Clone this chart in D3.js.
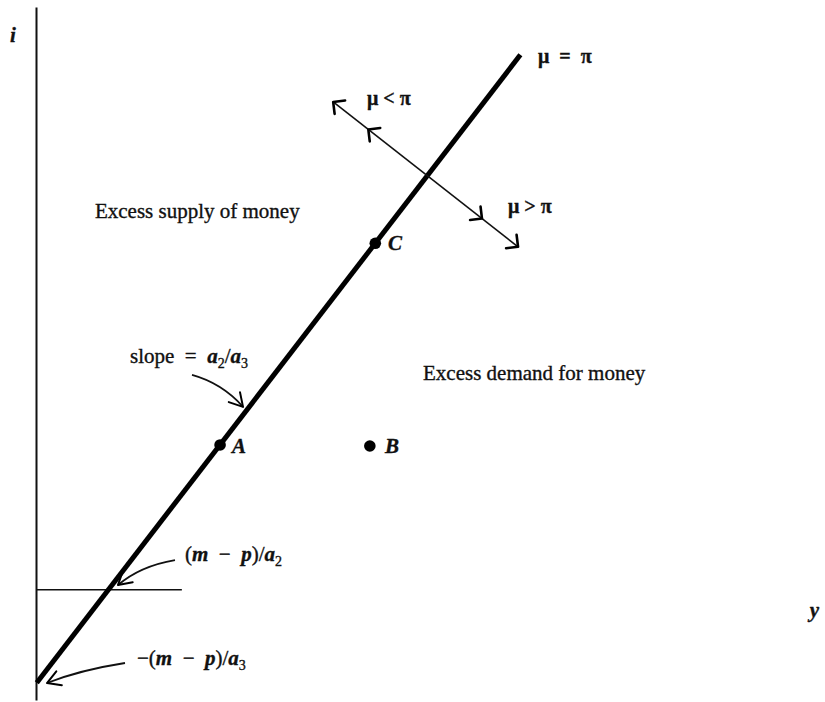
<!DOCTYPE html>
<html>
<head>
<meta charset="utf-8">
<script src="https://cdn.jsdelivr.net/npm/d3@7"></script>
<style>
  html, body { margin: 0; padding: 0; background: #fff; }
  svg { display: block; }
  text { font-family: "Liberation Serif", "Times New Roman", serif; fill: #111; white-space: pre; }
</style>
</head>
<body>
<svg id="chart" width="825" height="702"></svg>
<script>
// Money-market equilibrium line in (y, i) space, in model units.
const muPiLine = [{ y: 0.1, i: 2.5 }, { y: 62.1, i: 93.1 }];
// Intercept marker (m - p)/a2 on the i axis.
const interceptLevel = [{ y: 0, i: 15.9 }, { y: 18.7, i: 15.9 }];
// Direction-of-change arrow crossing the equilibrium line.
const crossArrow = [{ y: 38.1, i: 86.3 }, { y: 61.8, i: 65.4 }];
// Barbs along that arrow: position as a fraction of its length and pointing sense.
const crossBarbs = [{ t: 0, dir: -1 }, { t: 0.19, dir: -1 }, { t: 0.805, dir: 1 }, { t: 1, dir: 1 }];
// Named points.
const points = [
  { name: "A", y: 23.6, i: 36.8 },
  { name: "B", y: 42.8, i: 36.65 },
  { name: "C", y: 43.5, i: 65.9 }
];
// Curved pointers: start, control, end.
const pointers = [
  [{ y: 20.0, i: 46.9 }, { y: 23.85, i: 45.7 }, { y: 26.54, i: 42.3 }],
  [{ y: 17.82, i: 20.2 }, { y: 13.33, i: 19.34 }, { y: 10.51, i: 16.59 }],
  [{ y: 11.41, i: 5.34 }, { y: 5.64, i: 4.33 }, { y: 1.41, i: 2.45 }]
];
// Text labels: anchor (left baseline) and pieces [text, style].
const labels = [
  { y: -3.33, i: 94.95, parts: [["i", "it"]] },
  { y: 99.2, i: 11.98, parts: [["y", "it"]] },
  { y: 64.36, i: 91.92, parts: [["μ  =  π", "greek"]] },
  { y: 42.44, i: 85.86, parts: [["μ < π", "greek"]] },
  { y: 60.51, i: 70.27, parts: [["μ > π", "greek"]] },
  { y: 7.56, i: 69.55, parts: [["Excess supply of money", "rm"]] },
  { y: 49.62, i: 46.18, parts: [["Excess demand for money", "rm"]] },
  { y: 12.05, i: 48.63, parts: [["slope  =  ", "rm"], ["a", "it"], ["2", "sub"], ["/", "rm"], ["a", "it"], ["3", "sub"]] },
  { y: 45.13, i: 64.94, parts: [["C", "it"]] },
  { y: 25.13, i: 35.64, parts: [["A", "it"]] },
  { y: 44.74, i: 35.64, parts: [["B", "it"]] },
  { y: 19.1, i: 20.06, parts: [["(", "rm"], ["m", "it"], ["  −  ", "rm"], ["p", "it"], [")/", "rm"], ["a", "it"], ["2", "sub"]] },
  { y: 12.95, i: 5.05, parts: [["−(", "rm"], ["m", "it"], ["  −  ", "rm"], ["p", "it"], [")/", "rm"], ["a", "it"], ["3", "sub"]] }
];

const svg = d3.select("#chart");
const x = d3.scaleLinear().domain([0, 100]).range([36, 816]);
const yS = d3.scaleLinear().domain([0, 100]).range([700, 7]);

// Vertical i axis (domain line only).
svg.append("g")
  .attr("transform", `translate(${x(0)},0)`)
  .call(d3.axisLeft(yS).ticks(0).tickSize(0).tickSizeOuter(0))
  .call(g => g.select(".domain").attr("stroke", "#111").attr("stroke-width", 2));

const line = d3.line().x(d => x(d.y)).y(d => yS(d.i));

svg.append("path").datum(interceptLevel).attr("d", line)
  .attr("stroke", "#111").attr("stroke-width", 1.6).attr("fill", "none");

svg.append("path").datum(muPiLine).attr("d", line)
  .attr("stroke", "#000").attr("stroke-width", 5).attr("fill", "none");

svg.append("path").datum(crossArrow).attr("d", line)
  .attr("stroke", "#111").attr("stroke-width", 1.6).attr("fill", "none");

// Open chevron with its tip at (px, py), pointing along angle `ang`.
function chevron(px, py, ang, len, spread, width) {
  const p = d3.path();
  const back = ang + Math.PI;
  p.moveTo(px + len * Math.cos(back - spread), py + len * Math.sin(back - spread));
  p.lineTo(px, py);
  p.lineTo(px + len * Math.cos(back + spread), py + len * Math.sin(back + spread));
  svg.append("path").attr("d", p.toString())
    .attr("stroke", "#000").attr("stroke-width", width).attr("fill", "none")
    .attr("stroke-linecap", "round").attr("stroke-linejoin", "round");
}

const ax0 = x(crossArrow[0].y), ay0 = yS(crossArrow[0].i);
const ax1 = x(crossArrow[1].y), ay1 = yS(crossArrow[1].i);
const fwd = Math.atan2(ay1 - ay0, ax1 - ax0);
crossBarbs.forEach(b => {
  const px = ax0 + (ax1 - ax0) * b.t, py = ay0 + (ay1 - ay0) * b.t;
  chevron(px, py, b.dir > 0 ? fwd : fwd + Math.PI, 12, Math.PI / 4, 2.6);
});

// Curved pointers with open heads.
pointers.forEach(([s, c, e]) => {
  const p = d3.path();
  p.moveTo(x(s.y), yS(s.i));
  p.quadraticCurveTo(x(c.y), yS(c.i), x(e.y), yS(e.i));
  svg.append("path").attr("d", p.toString())
    .attr("stroke", "#111").attr("stroke-width", 1.8).attr("fill", "none");
  const ang = Math.atan2(yS(e.i) - yS(c.i), x(e.y) - x(c.y));
  chevron(x(e.y), yS(e.i), ang, 15, Math.PI / 6, 2);
});

// Points.
svg.selectAll("circle.pt").data(points).join("circle")
  .attr("class", "pt")
  .attr("cx", d => x(d.y)).attr("cy", d => yS(d.i)).attr("r", 5.8)
  .attr("fill", "#000");

// Labels.
const styles = {
  rm: { size: 21, style: "normal", weight: "normal", shift: 0 },
  it: { size: 21, style: "italic", weight: "bold", shift: 0 },
  sub: { size: 14, style: "normal", weight: "normal", shift: 5 },
  greek: { size: 20, style: "normal", weight: "bold", shift: 0 }
};
labels.forEach(l => {
  const t = svg.append("text")
    .attr("x", x(l.y)).attr("y", yS(l.i))
    .attr("stroke", "#111").attr("stroke-width", 0.35);
  let prevShift = 0;
  l.parts.forEach(([txt, st]) => {
    const s = styles[st];
    t.append("tspan")
      .attr("dy", s.shift - prevShift)
      .attr("font-size", s.size)
      .attr("font-style", s.style)
      .attr("font-weight", s.weight)
      .text(txt);
    prevShift = s.shift;
  });
});
</script>
</body>
</html>
